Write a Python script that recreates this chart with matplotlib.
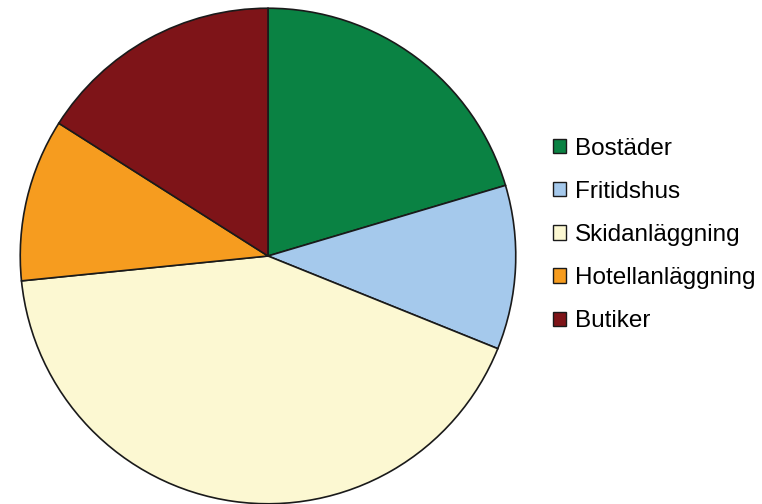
import matplotlib
matplotlib.use('Agg')
import matplotlib.pyplot as plt

labels = ['Bostäder', 'Fritidshus', 'Skidanläggning', 'Hotellanläggning', 'Butiker']
values = [20.4, 10.7, 42.3, 10.6, 16.0]
colors = ['#0a8243', '#a5c9ec', '#fcf8d2', '#f69c1f', '#7e1418']

plt.rcParams['font.family'] = ['Liberation Sans', 'DejaVu Sans']

fig = plt.figure(figsize=(7.62, 5.04), dpi=100)
ax = fig.add_axes([19 / 762, -1 / 504, 498 / 762, 498 / 504])

wedges, _ = ax.pie(values, colors=colors, startangle=90, counterclock=False,
                   wedgeprops=dict(edgecolor='#1a1a1a', linewidth=1.2))
ax.set_xlim(-1.005, 1.005)
ax.set_ylim(-1.005, 1.005)
ax.set_aspect('equal')

leg = fig.legend(wedges, labels, loc='center left', bbox_to_anchor=(548 / 762, 1 - 235 / 504),
                 frameon=False, fontsize=17.5, handlelength=0.53, handleheight=0.53,
                 handletextpad=0.37, labelspacing=0.87, borderpad=0.2, borderaxespad=0)
for h in leg.legend_handles:
    h.set_edgecolor('#1a1a1a')
    h.set_linewidth(1.0)

fig.savefig('out.png', dpi=100)
